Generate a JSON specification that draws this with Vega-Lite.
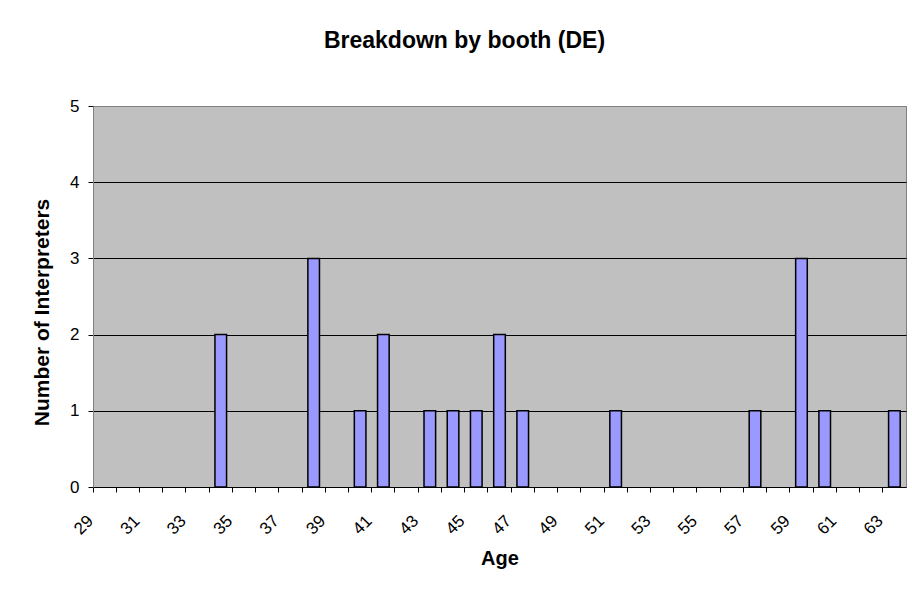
{
  "$schema": "https://vega.github.io/schema/vega-lite/v6.json",
  "width": 813,
  "height": 381,
  "autosize": {"type": "none"},
  "padding": {"left": 93, "top": 106, "right": 6, "bottom": 110},
  "background": "white",
  "title": {
    "text": "Breakdown by booth (DE)",
    "font": "Liberation Sans",
    "fontSize": 23,
    "fontWeight": "bold",
    "color": "black",
    "anchor": "middle",
    "frame": "group",
    "dx": -35,
    "baseline": "alphabetic",
    "offset": 26
  },
  "data": {
    "values": [
      {"age": 34, "count": 2},
      {"age": 38, "count": 3},
      {"age": 40, "count": 1},
      {"age": 41, "count": 2},
      {"age": 43, "count": 1},
      {"age": 44, "count": 1},
      {"age": 45, "count": 1},
      {"age": 46, "count": 2},
      {"age": 47, "count": 1},
      {"age": 51, "count": 1},
      {"age": 57, "count": 1},
      {"age": 59, "count": 3},
      {"age": 60, "count": 1},
      {"age": 63, "count": 1}
    ]
  },
  "mark": {"type": "bar", "fill": "#9999FF", "stroke": "black", "strokeWidth": 1.5, "width": {"band": 0.5}},
  "encoding": {
    "x": {
      "field": "age",
      "type": "ordinal",
      "scale": {
        "domain": [29,30,31,32,33,34,35,36,37,38,39,40,41,42,43,44,45,46,47,48,49,50,51,52,53,54,55,56,57,58,59,60,61,62,63],
        "paddingInner": 0,
        "paddingOuter": 0
      },
      "axis": {
        "bandPosition": 0,
        "domainColor": "black",
        "domainWidth": 1,
        "tickColor": "black",
        "tickSize": 5,
        "labelAngle": -45,
        "labelAlign": "right",
        "labelBaseline": "middle",
        "labelPadding": 26,
        "labelOffset": -14,
        "labelFont": "Liberation Sans",
        "labelFontSize": 17,
        "labelColor": "black",
        "labelOverlap": false,
        "labelBound": false,
        "labelExpr": "datum.value % 2 == 1 ? datum.label : ''",
        "title": "Age",
        "titleFont": "Liberation Sans",
        "titleFontSize": 20,
        "titleFontWeight": "bold",
        "titleColor": "black",
        "titleY": 71,
        "titleBaseline": "middle"
      }
    },
    "y": {
      "field": "count",
      "type": "quantitative",
      "scale": {"domain": [0, 5], "nice": false},
      "axis": {
        "values": [0, 1, 2, 3, 4, 5],
        "grid": true,
        "gridColor": {"condition": {"test": "datum.value == 5 || datum.value == 0", "value": "#808080"}, "value": "black"},
        "gridWidth": 1,
        "domainColor": "#808080",
        "tickColor": "black",
        "tickSize": 5,
        "labelFont": "Liberation Sans",
        "labelFontSize": 17,
        "labelColor": "black",
        "labelPadding": 9,
        "title": "Number of Interpreters",
        "titleFont": "Liberation Sans",
        "titleFontSize": 21,
        "titleFontWeight": "bold",
        "titleColor": "black",
        "titleX": -51,
        "titleY": 206,
        "titleBaseline": "middle"
      }
    }
  },
  "config": {
    "view": {"fill": "#C0C0C0", "stroke": "#808080", "strokeWidth": 1}
  }
}
